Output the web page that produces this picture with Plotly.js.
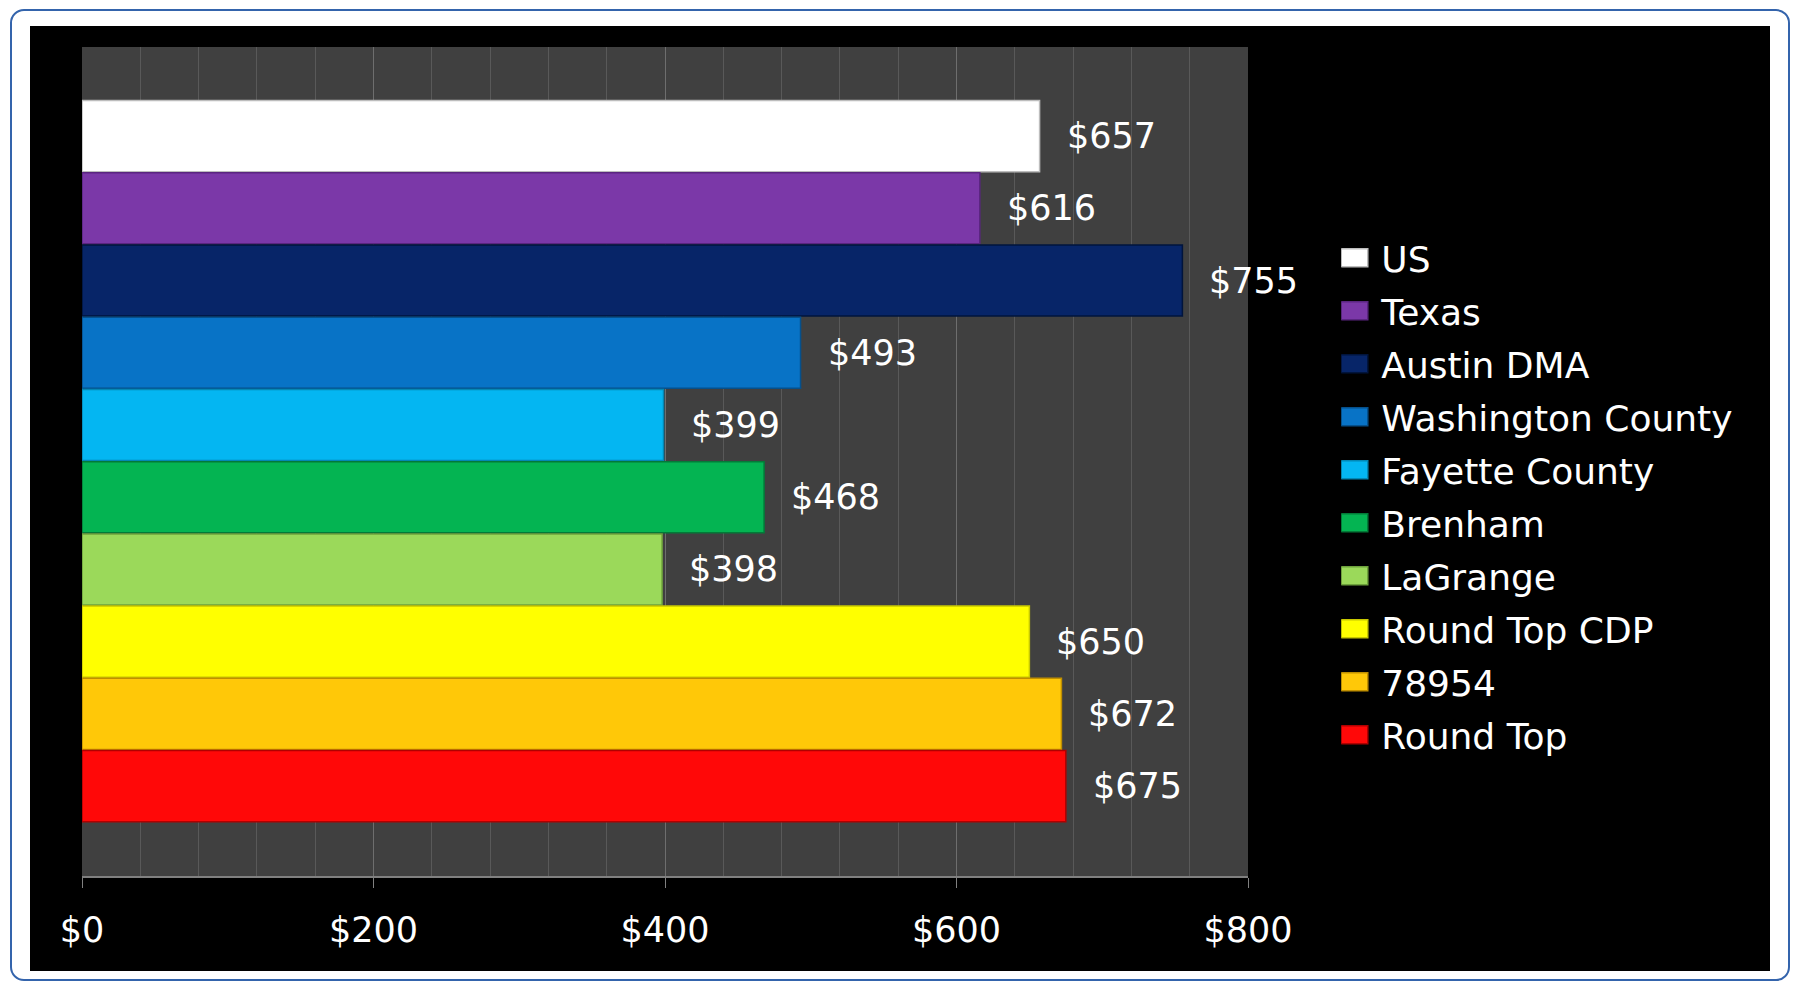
<!DOCTYPE html>
<html>
<head>
<meta charset="utf-8">
<script src="https://cdn.plot.ly/plotly-3.0.1.min.js"></script>
<style>
  html, body { margin: 0; padding: 0; background: #ffffff; width: 1801px; height: 981px; overflow: hidden; }
  #frame { position: absolute; left: 10px; top: 9px; width: 1776px; height: 968px; border: 2px solid #3464ac; border-radius: 14px; }
  #chart { position: absolute; left: 30px; top: 26px; width: 1740px; height: 945px; }
  #chart .legend .legendpoints path {
    transform-box: view-box;
    transform-origin: 0 0;
    transform: translate(13px, 0px) scale(2.25, 1.5);
    vector-effect: non-scaling-stroke;
  }
</style>
</head>
<body>
<div id="frame"></div>
<div id="chart"></div>
<script>
const categories = ["US", "Texas", "Austin DMA", "Washington County", "Fayette County", "Brenham", "LaGrange", "Round Top CDP", "78954", "Round Top"];
const values = [657, 616, 755, 493, 399, 468, 398, 650, 672, 675];
const barColors = ["#ffffff", "#7b38a8", "#072568", "#0873c6", "#04b6f2", "#04b452", "#9bd95a", "#ffff00", "#ffc808", "#ff0808"];
const edgeColors = ["#bdbdbd", "#5a2580", "#01143c", "#05508c", "#0388b5", "#037a38", "#6ea23c", "#c8c800", "#c08f00", "#b00000"];
const tickValues = [0, 200, 400, 600, 800];

const FONT = "DejaVu Sans, Verdana, sans-serif";

const traces = categories.map((c, i) => ({
  type: "bar",
  orientation: "h",
  y: [c],
  x: [values[i]],
  name: c,
  legendgroup: "g" + i,
  width: 0.985,
  marker: { color: barColors[i], line: { color: edgeColors[i], width: 1.5 } },
  hoverinfo: "skip"
}));

const annotations = categories.map((c, i) => ({
  x: values[i],
  y: i,
  xref: "x",
  yref: "y",
  text: "$" + values[i],
  showarrow: false,
  xanchor: "left",
  yanchor: "middle",
  xshift: 25,
  font: { family: FONT, size: 35, color: "#ffffff" }
}));

const layout = {
  width: 1740,
  height: 945,
  paper_bgcolor: "#000000",
  plot_bgcolor: "#404040",
  margin: { l: 51.5, r: 521.5, t: 21, b: 95, pad: 0 },
  barmode: "overlay",
  showlegend: true,
  legend: {
    x: 1.08,
    xanchor: "left",
    y: 0.458,
    yanchor: "middle",
    traceorder: "grouped",
    tracegroupgap: 3.2,
    bgcolor: "rgba(0,0,0,0)",
    font: { family: FONT, size: 36, color: "#ffffff" }
  },
  xaxis: {
    range: [0, 800],
    autorange: false,
    tickvals: tickValues,
    ticktext: tickValues.map(v => "$" + v),
    showgrid: true,
    gridcolor: "#6e6e6e",
    gridwidth: 1,
    minor: { dtick: 40, showgrid: true, gridcolor: "#595959", gridwidth: 1, ticks: "" },
    zeroline: false,
    showline: true,
    linecolor: "#808080",
    linewidth: 1.5,
    ticks: "outside",
    ticklen: 10,
    tickwidth: 1,
    tickcolor: "#808080",
    tickfont: { family: FONT, size: 35, color: "#ffffff" },
    ticklabelstandoff: 12,
    automargin: false,
    fixedrange: true
  },
  yaxis: {
    type: "category",
    categoryorder: "array",
    categoryarray: categories,
    range: [10.244, -1.233],
    autorange: false,
    showticklabels: false,
    showgrid: false,
    zeroline: false,
    showline: false,
    ticks: "",
    automargin: false,
    fixedrange: true
  },
  annotations: annotations
};

Plotly.newPlot("chart", traces, layout, { displayModeBar: false, staticPlot: true });
</script>
</body>
</html>
